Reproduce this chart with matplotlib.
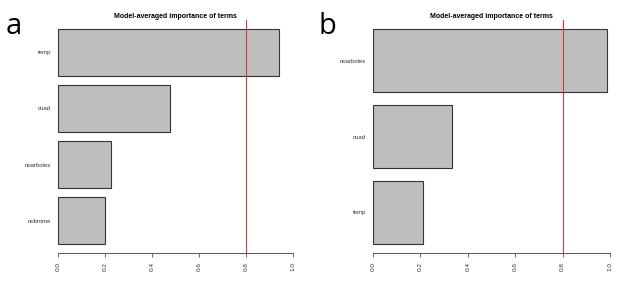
import matplotlib
matplotlib.use("Agg")
from matplotlib import pyplot as plt

# Panel a (listed top to bottom)
terms_a = ["temp", "cuad", "noarboles", "nobrome"]
importance_a = [0.94, 0.477, 0.225, 0.20]

# Panel b (listed top to bottom)
terms_b = ["noarboles", "cuad", "temp"]
importance_b = [0.987, 0.333, 0.211]

threshold = 0.8
ticks = [0.0, 0.2, 0.4, 0.6, 0.8, 1.0]
tick_labels = ["0.0", "0.2", "0.4", "0.6", "0.8", "1.0"]

W, H = 626, 281
plt.rcParams["font.family"] = ["Liberation Sans", "DejaVu Sans"]


def draw_panel(fig, left_px, right_px, terms, values, letter, letter_x):
    top_px, bottom_px = 20.4, 252.6
    ax = fig.add_axes([left_px / W, (H - bottom_px) / H,
                       (right_px - left_px) / W, (bottom_px - top_px) / H])
    n = len(terms)
    # R barplot style positions: width 1, space 0.2, first bar at bottom
    pos = [0.7 + 1.2 * i for i in range(n)]
    vals = list(reversed(values))
    names = list(reversed(terms))
    ax.barh(pos, vals, height=1.0, color="#bebebe", edgecolor="#333333",
            linewidth=0.8)
    span = 1.2 * n - 0.2
    ax.set_ylim(0.2 - 0.04 * span, 0.2 + span + 0.04 * span)
    ax.set_xlim(0, 1)
    ax.axvline(threshold, color="#d03a3a", linewidth=0.8)

    for s in ["top", "right", "left"]:
        ax.spines[s].set_visible(False)
    ax.spines["bottom"].set_color("#555555")
    ax.spines["bottom"].set_linewidth(0.7)

    ax.set_xticks(ticks)
    ax.set_xticklabels(tick_labels, rotation=90, fontsize=4.6, color="#333333")
    ax.tick_params(axis="x", length=3, width=0.6, color="#555555", pad=4)
    ax.set_yticks(pos)
    ax.set_yticklabels(names, fontsize=4.3, color="#333333")
    ax.tick_params(axis="y", length=0, pad=5)

    ax.set_title("Model-averaged importance of terms", fontsize=5,
                 fontweight="bold", pad=2)
    fig.text(letter_x / W, 1 - 34 / H, letter, fontsize=21,
             family=["Open Sans", "DejaVu Sans"], va="baseline")
    return ax


fig = plt.figure(figsize=(W / 100, H / 100), dpi=100)
draw_panel(fig, 58, 293, terms_a, importance_a, "a", 6)
draw_panel(fig, 373, 610, terms_b, importance_b, "b", 318)
fig.savefig("out.png", dpi=100)
